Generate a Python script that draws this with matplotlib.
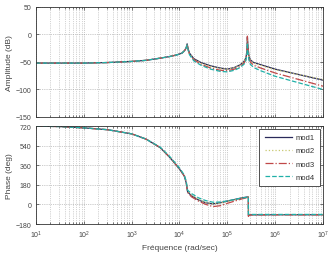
import numpy as np
import matplotlib
matplotlib.use("Agg")
import matplotlib.pyplot as plt

plt.rcParams['font.family'] = ['Liberation Sans', 'DejaVu Sans']

# ---- data (log10 of frequency in rad/s) ----
amp_logw = [1.0, 1.5, 2.0, 2.5, 3.0, 3.3, 3.6, 3.8, 3.95, 4.05, 4.11, 4.14, 4.16, 4.18, 4.21,
            4.3, 4.45, 4.65, 4.85, 5.0, 5.15, 5.27, 5.35, 5.39, 5.41, 5.42, 5.43, 5.45, 5.48,
            5.55, 5.7, 6.0, 6.5, 7.0]
amp_mod1 = [-52, -52, -52, -51, -49, -47, -43, -40, -37, -34, -29, -24, -17, -26, -34,
            -44, -51, -57, -61, -63, -60, -55, -49, -42, -30, -5, -20, -38, -46,
            -51, -55, -63, -73, -83]
amp_mod2 = [-52, -52, -52, -51, -49, -47, -43, -40, -37, -34, -29, -24, -18, -27, -35,
            -45, -52, -58, -62, -63, -60, -55, -49, -42, -30, -8, -22, -39, -47,
            -52, -56, -64, -73, -82]
amp_mod3 = [-52, -52, -52, -51, -49, -47, -43, -40, -37, -34, -29, -24, -18, -27, -36,
            -46, -54, -61, -65, -66, -63, -58, -52, -45, -33, -3, -24, -42, -50,
            -56, -61, -70, -82, -94]
amp_mod4 = [-52, -52, -52, -51, -49, -47, -43, -40, -37, -34, -29, -24, -19, -28, -37,
            -48, -56, -63, -67, -68, -65, -60, -54, -47, -36, -15, -30, -46, -54,
            -60, -66, -76, -88, -100]

ph_logw = [1.0, 1.5, 2.0, 2.5, 3.0, 3.3, 3.6, 3.8, 4.0, 4.1, 4.14, 4.17, 4.25, 4.4, 4.55,
           4.7, 4.85, 5.0, 5.15, 5.3, 5.44, 5.441, 5.46, 5.5, 6.0, 6.5, 7.0]
ph_mod1 = [719, 715, 703, 686, 648, 600, 520, 430, 325, 260, 200, 115, 80, 40, 15,
           5, 15, 30, 45, 60, 70, -105, -97, -96, -95, -95, -95]
ph_mod2 = [719, 715, 703, 686, 648, 600, 520, 430, 325, 262, 205, 120, 85, 45, 18,
           5, 12, 27, 42, 57, 68, -100, -96, -95, -94, -94, -94]
ph_mod3 = [719, 715, 703, 686, 648, 600, 522, 432, 328, 262, 205, 110, 70, 30, 0,
           -20, -12, 10, 30, 50, 65, -110, -98, -96, -95, -95, -95]
ph_mod4 = [719, 715, 703, 686, 648, 600, 525, 438, 335, 270, 215, 130, 100, 60, 35,
           20, 22, 32, 45, 58, 67, -90, -92, -92, -92, -92, -92]

names = ['mod1', 'mod2', 'mod3', 'mod4']
colors = ['#2a2a5a', '#c8c870', '#c04848', '#20b0a8']
styles = ['-', ':', '-.', '--']

amp_series = [amp_mod1, amp_mod2, amp_mod3, amp_mod4]
ph_series = [ph_mod1, ph_mod2, ph_mod3, ph_mod4]

fig = plt.figure(figsize=(3.29, 2.55), dpi=100)
ax1 = fig.add_axes([0.1094, 0.5373, 0.8723, 0.4314])
ax2 = fig.add_axes([0.1094, 0.1176, 0.8723, 0.3843])

w_amp = 10 ** np.array(amp_logw)
w_ph = 10 ** np.array(ph_logw)

for a, n, c, s in zip(amp_series, names, colors, styles):
    ax1.plot(w_amp, a, color=c, linestyle=s, linewidth=0.9, label=n)
for p, n, c, s in zip(ph_series, names, colors, styles):
    ax2.plot(w_ph, p, color=c, linestyle=s, linewidth=0.9, label=n)

tc = '#444444'
for ax in (ax1, ax2):
    ax.set_xscale('log')
    ax.set_xlim(1e1, 1e7)
    ax.grid(True, which='major', axis='both', linestyle=':', color='#999999', linewidth=0.5)
    ax.grid(True, which='minor', axis='x', linestyle=':', color='#aaaaaa', linewidth=0.5)
    ax.tick_params(which='both', direction='in', top=True, right=True,
                   labelsize=5, colors=tc, length=2, width=0.5)
    ax.tick_params(which='minor', length=1.2)
    for sp in ax.spines.values():
        sp.set_linewidth(0.6)
        sp.set_color('#333333')

ax1.set_ylim(-150, 50)
ax1.set_yticks([-150, -100, -50, 0, 50])
ax1.tick_params(labelbottom=False)
ax1.set_ylabel('Amplitude (dB)', fontsize=6, color=tc, labelpad=2)

ax2.set_ylim(-180, 720)
ax2.set_yticks([-180, 0, 180, 360, 540, 720])
ax2.set_xticks([1e1, 1e2, 1e3, 1e4, 1e5, 1e6, 1e7])
ax2.set_ylabel('Phase (deg)', fontsize=6, color=tc, labelpad=2)
ax2.set_xlabel('Fréquence (rad/sec)', fontsize=6, color=tc, labelpad=3)

leg = ax2.legend(loc='upper right', fontsize=5.5, handlelength=3.6, frameon=True,
                 fancybox=False, edgecolor='#333333', framealpha=1,
                 borderpad=0.7, labelspacing=0.75, handletextpad=0.5,
                 borderaxespad=0.35, markerfirst=True)
leg.get_frame().set_linewidth(0.6)
for t in leg.get_texts():
    t.set_color('#333333')

fig.savefig('out.png', dpi=100)
